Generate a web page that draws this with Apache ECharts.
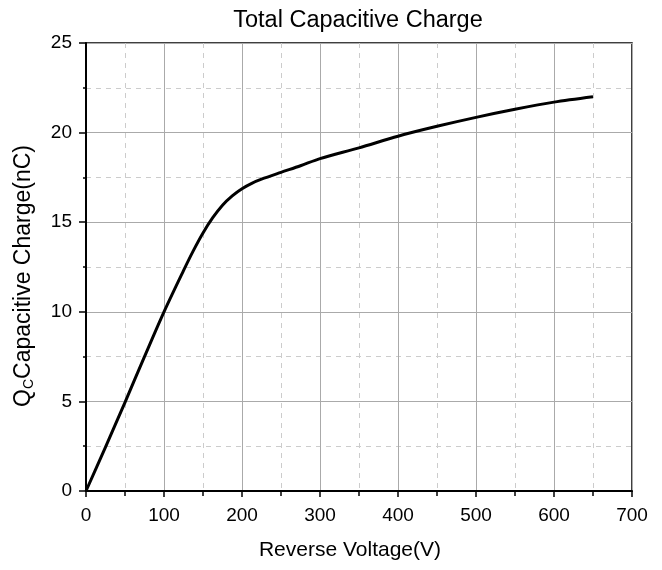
<!DOCTYPE html>
<html>
<head>
<meta charset="utf-8">
<script src="https://cdn.jsdelivr.net/npm/echarts@6/dist/echarts.min.js"></script>
<style>
html,body{margin:0;padding:0;background:#fff;}
#chart{width:662px;height:570px;}
</style>
</head>
<body>
<div id="chart"></div>
<script>
var voltage = [0, 25, 50, 75, 100, 125, 137.5, 150, 162.5, 175, 187.5, 200, 212.5, 225, 250, 275, 300, 350, 400, 450, 500, 550, 600, 650];
var charge  = [0, 2.45, 4.95, 7.5, 10.0, 12.3, 13.4, 14.4, 15.25, 15.95, 16.47, 16.87, 17.17, 17.4, 17.78, 18.15, 18.55, 19.15, 19.8, 20.35, 20.85, 21.3, 21.7, 22.0];

var points = voltage.map(function(v, i){ return [v, charge[i]]; });
var font = 'Liberation Sans, Arial, sans-serif';

var chart = echarts.init(document.getElementById('chart'));
chart.setOption({
  animation: false,
  backgroundColor: '#fff',
  title: {
    text: 'Total Capacitive Charge',
    left: 353, top: 4, textAlign: 'center',
    textStyle: {fontFamily: font, fontSize: 23.5, fontWeight: 'normal', color: '#000'}
  },
  grid: {
    left: 86, right: 30, top: 43, bottom: 79,
    show: true, borderColor: '#000', borderWidth: 1.5, backgroundColor: 'transparent'
  },
  xAxis: {
    type: 'value', min: 0, max: 700, interval: 100,
    name: 'Reverse Voltage(V)', nameLocation: 'middle', nameGap: 49,
    nameTextStyle: {fontFamily: font, fontSize: 21, color: '#000', padding: [0, 18, 0, 0]},
    axisLine: {onZero: false, lineStyle: {color: '#000', width: 2}},
    axisTick: {inside: false, length: 6, lineStyle: {color: '#000', width: 1.5}},
    minorTick: {show: true, splitNumber: 2, length: 5, lineStyle: {color: '#000', width: 1.5}},
    axisLabel: {fontFamily: font, fontSize: 19, color: '#000', margin: 15},
    splitLine: {show: true, lineStyle: {color: '#aaa', width: 1}},
    minorSplitLine: {show: true, lineStyle: {color: '#ccc', width: 1, type: [5, 5]}}
  },
  yAxis: {
    type: 'value', min: 0, max: 25, interval: 5,
    name: '{q|Q}{s|C}{q|Capacitive Charge(nC)}', nameLocation: 'middle', nameGap: 50,
    nameTextStyle: {
      padding: [0, 18, 0, 0],
      rich: {
        q: {fontFamily: font, fontSize: 23, color: '#000'},
        s: {fontFamily: font, fontSize: 14, color: '#000', verticalAlign: 'bottom', padding: [11, 0, 0, 0]}
      }
    },
    axisLine: {onZero: false, lineStyle: {color: '#000', width: 2}},
    axisTick: {inside: false, length: 7, lineStyle: {color: '#000', width: 1.5}},
    minorTick: {show: true, splitNumber: 2, length: 3, lineStyle: {color: '#000', width: 1.5}},
    axisLabel: {fontFamily: font, fontSize: 19, color: '#000', margin: 14},
    splitLine: {show: true, lineStyle: {color: '#aaa', width: 1}},
    minorSplitLine: {show: true, lineStyle: {color: '#ccc', width: 1, type: [5, 5]}}
  },
  series: [{
    type: 'line',
    data: points,
    smooth: 0.3,
    showSymbol: false,
    lineStyle: {color: '#000', width: 3}
  }]
});
</script>
</body>
</html>
